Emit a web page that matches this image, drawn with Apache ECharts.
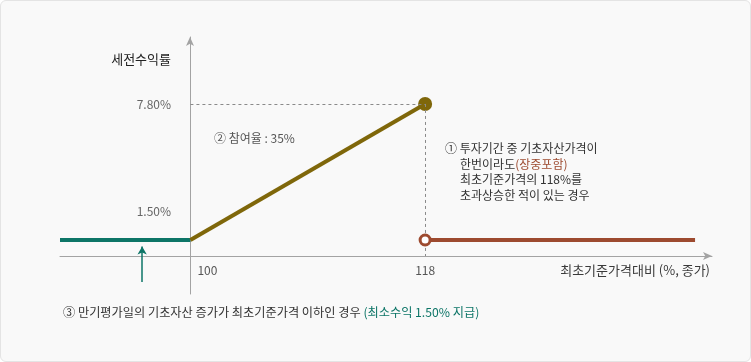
<!DOCTYPE html>
<html><head><meta charset="utf-8">
<script src="https://cdn.jsdelivr.net/npm/echarts@6/dist/echarts.min.js"></script>
<style>
html,body{margin:0;padding:0;background:#fff;}
#wrap{position:relative;width:751px;height:362px;}
#c{position:absolute;left:0;top:0;width:751px;height:362px;background:#f9f9f9;border-radius:6px;}
#frame{position:absolute;left:0;top:0;width:751px;height:362px;box-sizing:border-box;border:1px solid #e4e4e4;border-radius:6px;pointer-events:none;}
</style></head><body>
<div id="wrap"><div id="c"></div><div id="frame"></div></div>
<script>
// ---- data ----
const xTicks = [100, 118];
const yTicks = [1.5, 7.8];
const yTickLabels = ['1.50%', '7.80%'];
const xName = '최초기준가격대비 (%, 종가)';
const yName = '세전수익률';
const minSeg = [[90, 1.5], [100, 1.5]];        // 최소수익 구간
const partSeg = [[100, 1.5], [118, 7.8]];      // 참여율 구간
const knockSeg = [[118, 1.5], [138.7, 1.5]];   // 118% 초과 상승 구간
const arrowX = 96.3;
const arrowY = [-0.45, 1.2];
const axisCrossY = 0.76;
const note2 = '② 참여율 : 35%';
const note1 = ['① 투자기간 중 기초자산가격이', '한번이라도', '(장중포함)', '최초기준가격의 118%를', '초과상승한 적이 있는 경우'];
const note3 = ['③ 만기평가일의 기초자산 증가가 최초기준가격 이하인 경우 ', '(최소수익 1.50% 지급)'];

const FONT = "'Noto Sans CJK KR', 'Noto Sans', sans-serif";
const TEAL = '#0d7567', OLIVE = '#7f670a', BROWN = '#9d4a2f', AXIS = '#a3a3a3';

const chart = echarts.init(document.getElementById('c'), null, {renderer: 'canvas'});
chart.setOption({
  backgroundColor: 'transparent',
  animation: false,
  textStyle: {fontFamily: FONT},
  grid: {left: 60, right: 39, top: 37, bottom: 68},
  xAxis: {
    type: 'value', min: 90, max: 140, offset: -38,
    axisLine: {show: true, lineStyle: {color: AXIS, width: 1}, symbol: ['none', 'arrow'], symbolSize: [6, 9]},
    axisTick: {show: false}, splitLine: {show: false},
    axisLabel: {
      customValues: xTicks, margin: 8, color: '#555', fontSize: 12, fontFamily: FONT,
      formatter: v => v === 100 ? '{p|' + v + '}' : String(v),
      rich: {p: {padding: [0, 0, 0, 34], fontSize: 12, color: '#555', fontFamily: FONT}}
    },
    name: xName, nameLocation: 'end', nameGap: -2,
    nameTextStyle: {align: 'right', verticalAlign: 'top', padding: [8, 0, 0, 0], color: '#3a3a3a', fontSize: 13, fontFamily: FONT}
  },
  yAxis: {
    type: 'value', min: -1, max: 10.9, offset: -130,
    axisLine: {show: true, lineStyle: {color: AXIS, width: 1}, symbol: ['none', 'arrow'], symbolSize: [6, 9]},
    axisTick: {show: false}, splitLine: {show: false},
    axisLabel: {
      customValues: yTicks, margin: 19, color: '#666', fontSize: 12, fontFamily: FONT,
      formatter: v => {
        const i = yTicks.indexOf(v);
        return i === 0 ? '{lo|' + yTickLabels[i] + '}' : yTickLabels[i];
      },
      rich: {lo: {padding: [0, 0, 58, 0], fontSize: 12, color: '#666', fontFamily: FONT}}
    },
    name: yName, nameLocation: 'end', nameGap: -22,
    nameTextStyle: {align: 'right', verticalAlign: 'middle', padding: [0, 19, 0, 0], color: '#222', fontSize: 13, fontFamily: FONT}
  },
  series: [
    {
      type: 'line', data: minSeg, symbol: 'none', lineStyle: {color: TEAL, width: 4}, z: 3,
      markLine: {
        silent: true, animation: false, label: {show: false}, symbol: 'none',
        lineStyle: {color: '#8a8a8a', width: 1, type: [3, 3]},
        data: [
          [{coord: [xTicks[0], yTicks[1]]}, {coord: [xTicks[1], yTicks[1]]}],
          [{coord: [xTicks[1], yTicks[1]]}, {coord: [xTicks[1], axisCrossY]}],
          [{coord: [arrowX, arrowY[0]], symbol: 'none', lineStyle: {color: TEAL, width: 1.5, type: 'solid'}},
           {coord: [arrowX, arrowY[1]], symbol: 'arrow', symbolSize: [7, 8]}]
        ]
      }
    },
    {
      type: 'line', z: 4,
      data: [{value: partSeg[0], symbol: 'none'}, {value: partSeg[1], symbol: 'circle', symbolSize: 14}],
      lineStyle: {color: OLIVE, width: 4}, itemStyle: {color: OLIVE}
    },
    {
      type: 'line', z: 5,
      data: [{value: knockSeg[0], symbol: 'circle', symbolSize: 10}, {value: knockSeg[1], symbol: 'none'}],
      lineStyle: {color: BROWN, width: 4},
      itemStyle: {color: '#ffffff', borderColor: BROWN, borderWidth: 3}
    }
  ],
  graphic: [
    {type: 'text', left: 214, top: 132, style: {text: note2, font: '12px ' + FONT, fill: '#555'}},
    {type: 'text', left: 445, top: 141, style: {
      text: note1[0] + '\n{i|}' + note1[1] + '{r|' + note1[2] + '}\n{i|}' + note1[3] + '\n{i|}' + note1[4],
      font: '12px ' + FONT, fill: '#333', lineHeight: 15.5,
      rich: {i: {width: 15}, r: {fill: BROWN, font: '12px ' + FONT}}
    }},
    {type: 'text', left: 63, top: 306, style: {
      text: note3[0] + '{g|' + note3[1] + '}',
      font: '12.2px ' + FONT, fill: '#333',
      rich: {g: {fill: TEAL, font: '12.2px ' + FONT}}
    }}
  ]
});
</script>
</body></html>
